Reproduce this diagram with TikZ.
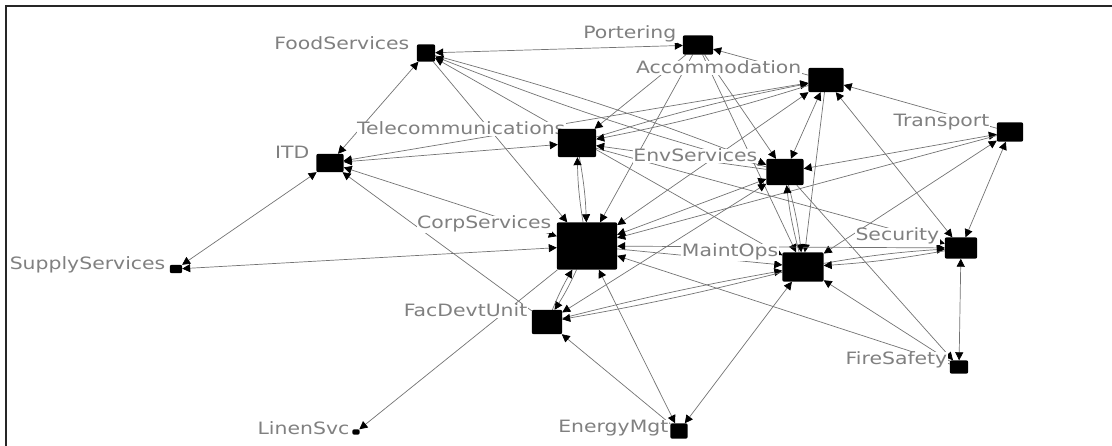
\documentclass[tikz,border=0pt]{standalone}
\usepackage{fontspec}
\newfontfamily\lblfont[FakeStretch=1.2]{DejaVu Sans}
\usetikzlibrary{arrows.meta}
\definecolor{edgec}{RGB}{115,115,115}
\definecolor{lblc}{RGB}{128,128,128}
\begin{document}
\begin{tikzpicture}[x=1pt,y=-1pt,
  lbl/.style={font=\lblfont\fontsize{17}{17}\selectfont,text=lblc,fill=white,inner sep=0.5pt},
  edge/.style={draw=edgec,line width=0.7pt},
  ar/.style={edge,-{Triangle[color=black,length=8pt,width=8pt]}},
  ar2/.style={edge,{Triangle[color=black,length=8pt,width=8pt]}-{Triangle[color=black,length=8pt,width=8pt]}}
]
\useasboundingbox (0,0) rectangle (1112,446);
% node outlines (filled later, over the labels)
\path
  node[minimum width=18pt,minimum height=17pt,inner sep=0pt] (F) at (426,53) {}
  node[minimum width=30pt,minimum height=19pt,inner sep=0pt] (P) at (698,45) {}
  node[minimum width=35pt,minimum height=24pt,inner sep=0pt] (A) at (826,80) {}
  node[minimum width=26pt,minimum height=19pt,inner sep=0pt] (T) at (1010,132) {}
  node[minimum width=38pt,minimum height=28pt,inner sep=0pt] (Tel) at (577,143) {}
  node[minimum width=27pt,minimum height=18pt,inner sep=0pt] (I) at (330,163) {}
  node[minimum width=37pt,minimum height=26pt,inner sep=0pt] (E) at (785,172) {}
  node[minimum width=60pt,minimum height=47pt,inner sep=0pt] (C) at (587,246) {}
  node[minimum width=41pt,minimum height=29pt,inner sep=0pt] (M) at (803,267) {}
  node[minimum width=32pt,minimum height=21pt,inner sep=0pt] (S) at (961,248) {}
  node[minimum width=12pt,minimum height=8pt,inner sep=0pt] (Sup) at (176,269) {}
  node[minimum width=30pt,minimum height=24pt,inner sep=0pt] (Fac) at (547,322) {}
  node[minimum width=18pt,minimum height=13pt,inner sep=0pt] (Fire) at (959,367) {}
  node[minimum width=7pt,minimum height=5pt,inner sep=0pt] (L) at (356,432) {}
  node[minimum width=17pt,minimum height=15pt,inner sep=0pt] (En) at (679,431) {};
% edges
\draw[ar2] (F) -- (P);
\draw[ar2] (I) -- (F);
\draw[ar] (F) -- (C);
\draw[ar2] (F) -- (M);
\draw[ar] (F) to[bend left=3] (E);
\draw[ar] (E) to[bend left=3] (F);
\draw[ar] (P) -- (Tel);
\draw[ar] (P) -- (C);
\draw[ar] (P) -- (M);
\draw[ar] (P) -- (E);
\draw[ar] (A) -- (P);
\draw[ar2] (A) -- (I);
\draw[ar2] (I) -- (Tel);
\draw[ar2] (I) -- (C);
\draw[ar] (Fac) -- (I);
\draw[ar2] (I) -- (Sup);
\draw[ar2] (C) -- (Sup);
\draw[ar] (C) -- (L);
\draw[ar] (C) to[bend left=4] (Fac);
\draw[ar] (Fac) to[bend left=4] (C);
\draw[ar2] (En) -- (C);
\draw[ar] (En) -- (Fac);
\draw[ar2] (En) -- (M);
\draw[ar2] (T) -- (S);
\draw[ar2] (S) -- (Fire);
\draw[ar2] (A) -- (S);
\draw[ar] (T) -- (A);
\draw[ar2] (T) -- (E);
\draw[ar] (T) -- (C);
\draw[ar2] (M) -- (T);
\draw[ar] (A) -- (M);
\draw[ar2] (A) -- (E);
\draw[ar] (Tel) -- (S);
\draw[ar] (E) -- (Fire);
\draw[ar] (Fire) -- (M);
\draw[ar] (Fire) -- (C);
\draw[ar] (M) to[bend left=3] (S);
\draw[ar] (S) to[bend left=3] (M);
\draw[ar2] (C) -- (S);
\draw[ar2] (A) -- (C);
\draw[ar2] (E) -- (C);
\draw[ar] (Tel) to[bend left=4] (C);
\draw[ar] (C) to[bend left=4] (Tel);
\draw[ar] (Tel) to[bend left=3] (A);
\draw[ar] (A) to[bend left=3] (Tel);
\draw[ar] (E) -- (Tel);
\draw[ar] (E) to[bend left=4] (M);
\draw[ar] (M) to[bend left=4] (E);
\draw[ar] (C) -- (M);
\draw[ar] (Fac) to[bend left=2] (M);
\draw[ar] (M) to[bend left=2] (Fac);
\draw[ar2] (Fac) -- (E);
% labels
\node[lbl,anchor=base east] (Flbl) at (410,50) {FoodServices};
\node[lbl,anchor=base east] (Plbl) at (677,39) {Portering};
\node[lbl,anchor=base east] (Albl) at (802,74) {Accommodation};
\node[lbl,anchor=base east] (Tlbl) at (990,127) {Transport};
\node[lbl,anchor=base east] (Tellbl) at (566,135) {Telecommunications};
\node[lbl,anchor=base east] (Ilbl) at (310,159) {ITD};
\node[lbl,anchor=base east] (Elbl) at (758,162) {EnvServices};
\node[lbl,anchor=base east] (Clbl) at (552,229) {CorpServices};
\node[lbl,anchor=base east] (Mlbl) at (779,257) {MaintOps};
\node[lbl,anchor=base east] (Slbl) at (940,241) {Security};
\node[lbl,anchor=base east] (Suplbl) at (166,270) {SupplyServices};
\node[lbl,anchor=base east] (Faclbl) at (528,317) {FacDevtUnit};
\node[lbl,anchor=base east] (Firelbl) at (948,365) {FireSafety};
\node[lbl,anchor=base east] (Llbl) at (350,435) {LinenSvc};
\node[lbl,anchor=base east] (Enlbl) at (669,433) {EnergyMgt};
% boxes drawn on top
\foreach \n in {F,P,A,T,Tel,I,E,C,M,S,Sup,Fac,Fire,L,En}
  \fill[black,rounded corners=2pt] (\n.south west) rectangle (\n.north east);
% frame
\draw[line width=2pt,color=black!85] (6,446) -- (6,6) -- (1112,6);
\end{tikzpicture}
\end{document}
